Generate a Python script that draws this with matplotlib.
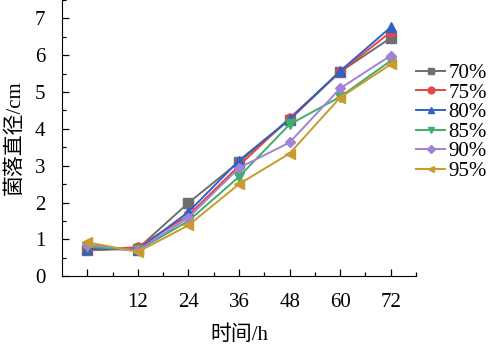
import numpy as np
import matplotlib
matplotlib.use('Agg')
from matplotlib import pyplot as plt
from matplotlib.ticker import MultipleLocator, FixedLocator

plt.rcParams['font.family'] = ['Liberation Serif', 'Noto Sans CJK SC']

hours = [0, 12, 24, 36, 48, 60, 72]
labels = ['70%', '75%', '80%', '85%', '90%', '95%']

d70 = [0.70, 0.75, 1.99, 3.10, 4.25, 5.55, 6.47]
d75 = [0.70, 0.79, 1.65, 3.00, 4.29, 5.55, 6.63]
d80 = [0.75, 0.72, 1.74, 3.14, 4.26, 5.57, 6.76]
d85 = [0.80, 0.70, 1.50, 2.70, 4.12, 4.87, 5.85]
d90 = [0.85, 0.70, 1.59, 2.94, 3.63, 5.10, 5.99]
d95 = [0.92, 0.66, 1.38, 2.50, 3.33, 4.85, 5.75]

series = [d70, d75, d80, d85, d90, d95]
colors = ['#6e6e6e', '#e84545', '#2f62c4', '#3fae6a', '#a182d4', '#c99a2c']
markers = ['s', 'o', '^', 'v', 'D', '<']

fig = plt.figure(figsize=(4.9, 3.5), dpi=100)
ax = fig.add_axes([0.1265, 0.211, 0.7225, 0.789])

for vals, c, m, lab in zip(series, colors, markers, labels):
    ms = 5.5 if m == 'D' else 6.5
    ax.plot(hours, vals, color=c, marker=m, markersize=ms, linewidth=1.4, label=lab)

ax.set_xlim(-6, 78)
ax.set_ylim(0, 7.5)
ax.xaxis.set_major_locator(FixedLocator([0, 12, 24, 36, 48, 60, 72]))
ax.set_xticklabels(['', '12', '24', '36', '48', '60', '72'])
ax.xaxis.set_minor_locator(FixedLocator([6, 18, 30, 42, 54, 66, 78]))
ax.yaxis.set_major_locator(MultipleLocator(1))
ax.yaxis.set_minor_locator(MultipleLocator(0.5))
ax.tick_params(which='both', direction='in', labelsize=15, width=0.9)
ax.tick_params(which='major', length=5)
ax.tick_params(which='minor', length=3)
ax.tick_params(axis='x', pad=12)
ax.tick_params(axis='y', pad=12)
for s in ['top', 'right']:
    ax.spines[s].set_visible(False)

ax.set_xlabel('时间/h', fontsize=15, labelpad=10)
ax.set_ylabel('菌落直径/cm', fontsize=15, labelpad=7)

ax.legend(loc='upper left', bbox_to_anchor=(1.0, 0.77), frameon=False, fontsize=15,
          handlelength=1.4, handletextpad=0.15, labelspacing=0.0, borderaxespad=0.0,
          borderpad=0.0, markerscale=0.75)

fig.savefig('out.png', dpi=100)
